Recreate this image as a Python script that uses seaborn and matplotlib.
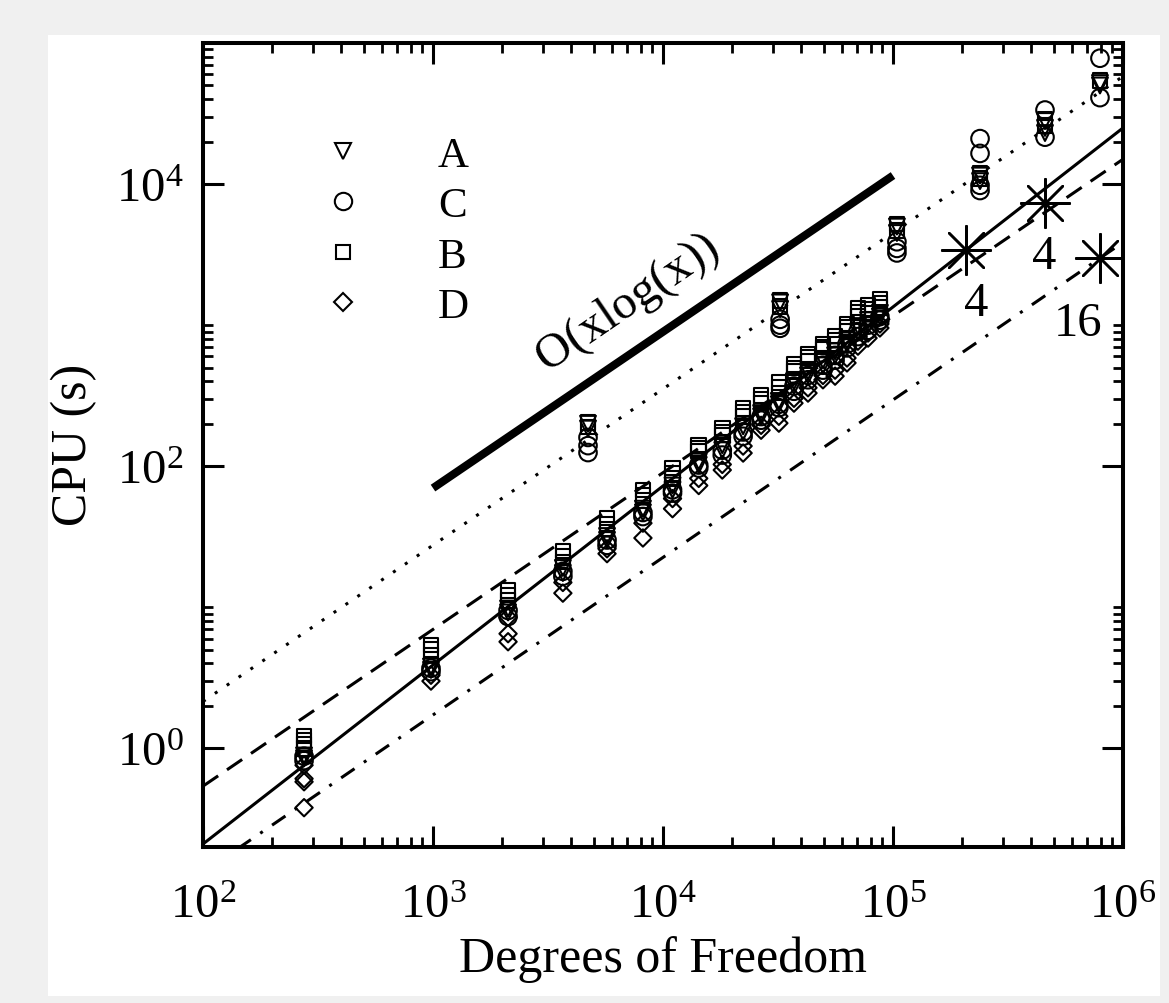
import numpy as np
import pandas as pd
import matplotlib
matplotlib.use("Agg")
import matplotlib.pyplot as plt
from matplotlib.ticker import FixedLocator, FuncFormatter, NullFormatter
from matplotlib.lines import Line2D
from matplotlib.patches import Rectangle
import seaborn as sns

# ---------------- data ----------------
dof_low = [275, 980, 2120, 3670, 5710, 8180, 11000, 14300, 18100, 22300,
           26700, 31900, 37100, 42700, 49600, 56000, 63100, 70400, 77900, 87700]

cpu_low_B = [[1.22, 1.14, 1.07, 1.0], [5.4, 5.0, 4.6], [13.2, 12.2, 11.2], [25, 23, 21],
             [43, 39, 36], [68, 62, 57], [97, 89, 82], [141, 134, 128], [186, 175, 166],
             [257, 240, 226], [318, 298, 280], [394, 360, 330], [528, 498, 470],
             [620, 588, 556], [733, 700, 670], [835, 785, 733], [1020, 960, 910],
             [1320, 1230, 1150], [1390, 1300, 1220], [1520, 1430, 1340]]
cpu_low_A = [[0.89, 0.85], [3.8, 3.6], [9.8, 9.2], [19, 17.5], [32, 30], [50, 47],
             [73, 68], [108, 102], [141, 130], [192, 175], [238, 225], [290, 275],
             [400, 370], [470, 440], [565, 520], [653, 610], [780, 735], [985, 900],
             [1085, 1000], [1220, 1150]]
cpu_low_C = [[0.88, 0.82], [3.7, 3.5], [9.5, 8.6], [18, 16.6], [30, 27.5], [47, 44],
             [68, 64.5], [102, 97], [130, 120], [175, 163], [225, 212], [275, 260],
             [370, 340], [440, 410], [520, 480], [610, 565], [735, 690], [900, 830],
             [1000, 920], [1150, 1085]]
cpu_low_D = [[0.76, 0.61, 0.58, 0.38], [3.3, 3.0], [8.5, 6.5, 5.7], [15, 12.6], [26, 24],
             [39.5, 31], [59, 50], [82, 73], [103, 94], [139, 124], [195, 180], [226, 202],
             [303, 280], [360, 330], [440, 410], [480, 435], [585, 540], [770, 710],
             [880, 810], [1020, 955]]

dof_high = [4720, 32300, 104000, 239000, 458000, 794000]
cpu_high_A = [[200, 185], [1450, 1300], [5000, 4500], [11500, 10500], [28000, 25000, 23000], [52000, 50000]]
cpu_high_B = [[205, 190], [1500, 1350], [5200, 4700], [12000, 11000], [29000, 26000], [54000]]
cpu_high_C = [[160, 140, 125], [1100, 1000, 950], [3900, 3500, 3250],
              [21000, 16500, 9800, 9000], [33500, 21500], [78000, 41000]]

# fitted reference lines (end points)
line_x = [1e2, 1e6]
solid_y = [0.21, 25000]
dashed_y = [0.54, 15000]
dotted_y = [2.15, 58000]
dashdot_y = [0.132, 3860]
# O(x log x) guide
guide_x = [1e3, 1e5]
guide_y = [70, 11500]

# parallel runs (asterisks) and their labels
star_x = [2.08e5, 4.58e5, 7.94e5]
star_y = [3400, 7330, 2990]
star_labels = ["4", "4", "16"]
star_label_x = [2.30e5, 4.54e5, 6.37e5]
star_label_y = [1178, 2535, 849]

legend_order = ["A", "C", "B", "D"]

# ---------------- build long-form table ----------------
rows = []
def add(series, xs, ys):
    for xv, yl in zip(xs, ys):
        for yv in yl:
            rows.append((series, xv, yv))
add("A", dof_low, cpu_low_A)
add("B", dof_low, cpu_low_B)
add("C", dof_low, cpu_low_C)
add("D", dof_low, cpu_low_D)
add("A", dof_high, cpu_high_A)
add("B", dof_high, cpu_high_B)
add("C", dof_high, cpu_high_C)
df = pd.DataFrame(rows, columns=["series", "dof", "cpu"])

# ---------------- style ----------------
sns.set_theme(style="white")
plt.rcParams["font.family"] = ["Liberation Serif", "DejaVu Serif"]
plt.rcParams["mathtext.fontset"] = "custom"
plt.rcParams["mathtext.rm"] = "Liberation Serif"
plt.rcParams["mathtext.it"] = "Liberation Serif:italic"
plt.rcParams["mathtext.bf"] = "Liberation Serif:bold"
for k in ["text.color", "axes.labelcolor", "xtick.color", "ytick.color", "axes.edgecolor"]:
    plt.rcParams[k] = "black"

W, H = 1169, 1004
fig = plt.figure(figsize=(W / 100, H / 100), dpi=100, facecolor="#f0f0f0")
fig.add_artist(Rectangle((48 / W, 1 - 997 / H), (1160 - 48) / W, (997 - 36) / H,
                         transform=fig.transFigure, facecolor="white",
                         edgecolor="none", zorder=-10))
ax = fig.add_axes([203 / W, 1 - 848 / H, (1123 - 203) / W, (848 - 44) / H])
ax.set_facecolor("white")
ax.set_xscale("log")
ax.set_yscale("log")
ax.set_xlim(1e2, 1e6)
ax.set_ylim(0.2, 1e5)

markers = {"A": ("v", 130), "B": ("s", 110), "C": ("o", 160), "D": ("D", 78)}
for s in ["B", "A", "C", "D"]:
    m, size = markers[s]
    sns.scatterplot(data=df[df.series == s], x="dof", y="cpu", marker=m, s=size,
                    color="black", facecolor="none", edgecolor="black",
                    linewidth=1.5, ax=ax, zorder=3, legend=False)

lw = 2.2
def draw_line(xs, ys, dashes, width=lw):
    sns.lineplot(x=xs, y=ys, color="black", linewidth=width, ax=ax,
                 estimator=None, sort=False, legend=False)
    ln = ax.lines[-1]
    if dashes is not None:
        ln.set_dashes(dashes)
    ln.set_dash_capstyle("butt")
    ln.set_solid_capstyle("butt")
    return ln

draw_line(line_x, solid_y, None)
draw_line(line_x, dashed_y, (6, 3.5))
draw_line(line_x, dotted_y, (1, 3.7))
draw_line(line_x, dashdot_y, (5.3, 3.7, 1, 3.7))
draw_line(guide_x, guide_y, None, width=5.8)

ax.text(7000, 1480, "O(xlog(x))", rotation=34.3, rotation_mode="anchor",
        ha="center", va="center", fontsize=35)

sns.scatterplot(x=star_x, y=star_y, marker=(8, 2, 0), s=35 ** 2, color="black",
                edgecolor="black", linewidth=1.8, ax=ax, zorder=4, legend=False)
for xv, yv, t in zip(star_label_x, star_label_y, star_labels):
    ax.text(xv, yv, t, ha="center", va="baseline", fontsize=35)

# ---------------- axes / ticks ----------------
fmt = FuncFormatter(lambda v, p: r"$\mathregular{10^{%d}}$" % int(round(np.log10(v))))
ax.xaxis.set_major_locator(FixedLocator([1e2, 1e3, 1e4, 1e5, 1e6]))
ax.xaxis.set_minor_locator(FixedLocator([m * 10.0 ** k for k in range(2, 6) for m in range(2, 10)]))
ax.yaxis.set_major_locator(FixedLocator([1e0, 1e2, 1e4]))
ax.yaxis.set_minor_locator(FixedLocator([m * 10.0 ** k for k in (0, 2, 4) for m in range(2, 11)]))
ax.xaxis.set_major_formatter(fmt)
ax.yaxis.set_major_formatter(fmt)
ax.xaxis.set_minor_formatter(NullFormatter())
ax.yaxis.set_minor_formatter(NullFormatter())
ax.tick_params(which="both", direction="in", top=True, right=True, bottom=True, left=True,
               colors="black", labelsize=35)
ax.tick_params(which="major", length=15, width=2.2)
ax.tick_params(which="minor", length=7.5, width=2.0)
ax.tick_params(axis="x", which="major", pad=26)
ax.tick_params(axis="y", which="major", pad=14)
for sp in ax.spines.values():
    sp.set_linewidth(2.9)
    sp.set_color("black")

ax.set_xlabel("Degrees of Freedom", fontsize=36)
ax.set_ylabel("CPU (s)", fontsize=36)
ax.xaxis.set_label_coords(0.5, (848 - 936) / 804)
ax.yaxis.set_label_coords((97 - 203) / 920, 0.501)

# ---------------- legend ----------------
mk_leg = {"A": ("v", 11.5), "B": ("s", 10.5), "C": ("o", 12.5), "D": ("D", 8.8)}
handles = [Line2D([], [], linestyle="none", marker=mk_leg[s][0], markersize=mk_leg[s][1],
                  markerfacecolor="none", markeredgecolor="black", markeredgewidth=1.5)
           for s in legend_order]
ax.legend(handles, legend_order, loc="upper left",
          bbox_to_anchor=(300 / W, 1 - 137 / H), bbox_transform=fig.transFigure,
          frameon=False, fontsize=31, handlelength=2.0, handletextpad=1.2,
          labelspacing=0.26, borderpad=0, borderaxespad=0)

fig.savefig("out.png", dpi=100, facecolor=fig.get_facecolor())
